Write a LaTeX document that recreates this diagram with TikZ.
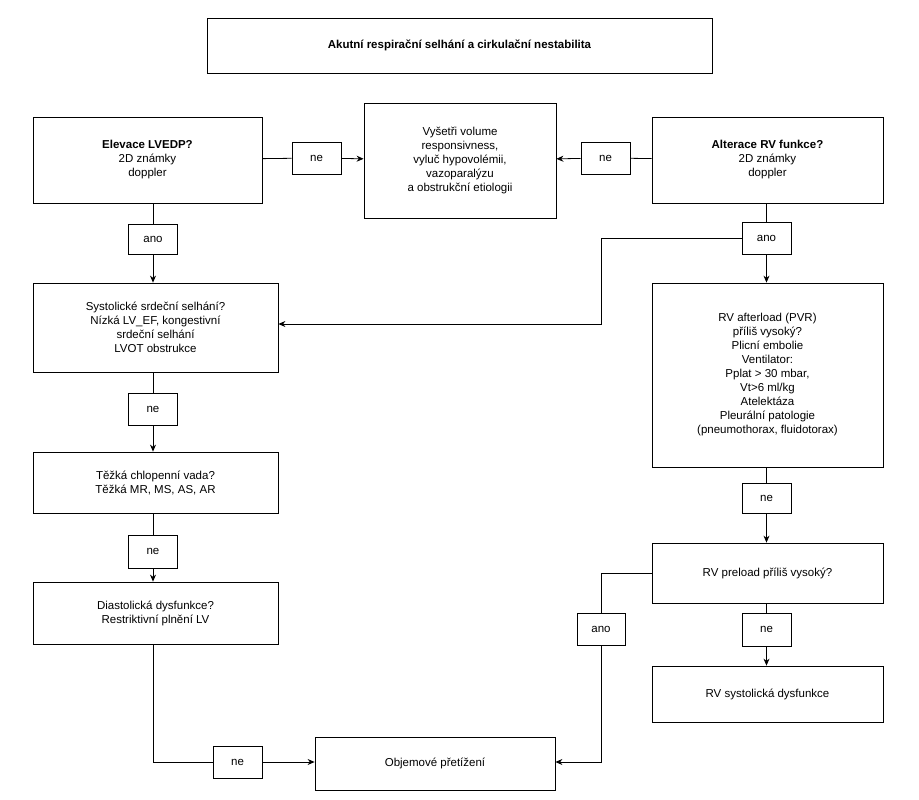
\documentclass[tikz,border=0pt]{standalone}
\usepackage{fontspec}
\setmainfont{Liberation Sans}
\usetikzlibrary{arrows.meta}
\begin{document}
\begin{tikzpicture}[x=1pt,y=-1pt,
	box/.style={draw, thick, align=center, font=\fontsize{11.5}{14}\selectfont, inner sep=2pt},
	tag/.style={draw, thick, font=\fontsize{11.5}{14}\selectfont, minimum width=49pt, minimum height=32pt, inner sep=0pt},
	arr/.style={thick, -{Stealth[length=7pt,width=6pt]}}]
	\useasboundingbox (0,0) rectangle (919,800);
	\node[box, minimum width=505pt, minimum height=55pt] (title) at (459.5,45.5) {\textbf{Akutní respirační selhání a cirkulační nestabilita}};
	\node[box, minimum width=229pt, minimum height=86pt] (lvedp) at (147.5,160) {\textbf{Elevace LVEDP?}\\2D známky\\doppler};
	\node[box, minimum width=192pt, minimum height=115pt] (volume) at (460,160.5) {Vyšetři volume\\responsivness,\\vyluč hypovolémii,\\vazoparalýzu\\a obstrukční etiologii};
	\node[box, minimum width=231pt, minimum height=86pt] (rvfun) at (767.5,160) {\textbf{Alterace RV funkce?}\\2D známky\\doppler};
	\node[tag] (ne1) at (316.5,158) {ne};
	\node[tag] (ne2) at (605.5,158) {ne};
	\node[tag, minimum height=30pt] (ano1) at (153,239) {ano};
	\node[tag, minimum height=32pt] (ano2) at (766.5,238) {ano};
	\node[box, minimum width=245pt, minimum height=89pt] (syst) at (155.5,327.5) {Systolické srdeční selhání?\\Nízká LV\_EF, kongestivní\\srdeční selhání\\LVOT obstrukce};
	\node[box, minimum width=231pt, minimum height=184pt] (afterload) at (767.5,375) {RV afterload (PVR)\\příliš vysoký?\\Plicní embolie\\Ventilator:\\Pplat > 30 mbar,\\Vt>6 ml/kg\\Atelektáza\\Pleurální patologie\\(pneumothorax, fluidotorax)};
	\node[tag] (ne3) at (153,409) {ne};
	\node[box, minimum width=245pt, minimum height=61pt] (chlop) at (155.5,482.5) {Těžká chlopenní vada?\\Těžká MR, MS, AS, AR};
	\node[tag, minimum height=30pt] (ne4) at (766.5,498) {ne};
	\node[tag, minimum height=33pt] (ne5) at (153,551.5) {ne};
	\node[box, minimum width=231pt, minimum height=60pt] (preload) at (767.5,573) {RV preload příliš vysoký?};
	\node[box, minimum width=245pt, minimum height=62pt] (diast) at (155.5,613) {Diastolická dysfunkce?\\Restriktivní plnění LV};
	\node[tag, minimum width=48pt] (ano3) at (601,629) {ano};
	\node[tag, minimum height=33pt] (ne6) at (766.5,629.5) {ne};
	\node[box, minimum width=231pt, minimum height=56pt] (rvsys) at (767.5,694) {RV systolická dysfunkce};
	\node[box, minimum width=240pt, minimum height=53pt] (objem) at (435,763.5) {Objemové přetížení};
	\node[tag] (ne7) at (237.5,762) {ne};
	\coordinate (c1) at (601,238);
	\coordinate (c2) at (601,324);
	\coordinate (c3) at (153,762);
	\draw[thick] (lvedp) -- (ne1);
	\draw[arr] (ne1) -- (volume);
	\draw[thick] (rvfun) -- (ne2);
	\draw[arr] (ne2) -- (volume);
	\draw[thick] (lvedp.south -| ano1) -- (ano1);
	\draw[arr] (ano1) -- (syst.north -| ano1);
	\draw[thick] (rvfun.south -| ano2) -- (ano2);
	\draw[arr] (ano2) -- (afterload.north -| ano2);
	\draw[arr] (ano2.west) -- (c1) -- (c2) -- (syst.east |- c2);
	\draw[thick] (syst.south -| ne3) -- (ne3);
	\draw[arr] (ne3) -- (chlop.north -| ne3);
	\draw[thick] (chlop.south -| ne5) -- (ne5);
	\draw[arr] (ne5) -- (diast.north -| ne5);
	\draw[thick] (afterload.south -| ne4) -- (ne4);
	\draw[arr] (ne4) -- (preload.north -| ne4);
	\draw[thick] (preload.south -| ne6) -- (ne6);
	\draw[arr] (ne6) -- (rvsys.north -| ne6);
	\draw[thick] (preload.west) -| (ano3);
	\draw[arr] (ano3) |- (objem.east |- ne7);
	\draw[thick] (diast.south -| c3) -- (c3) -- (ne7);
	\draw[arr] (ne7) -- (objem.west |- ne7);
\end{tikzpicture}
\end{document}
